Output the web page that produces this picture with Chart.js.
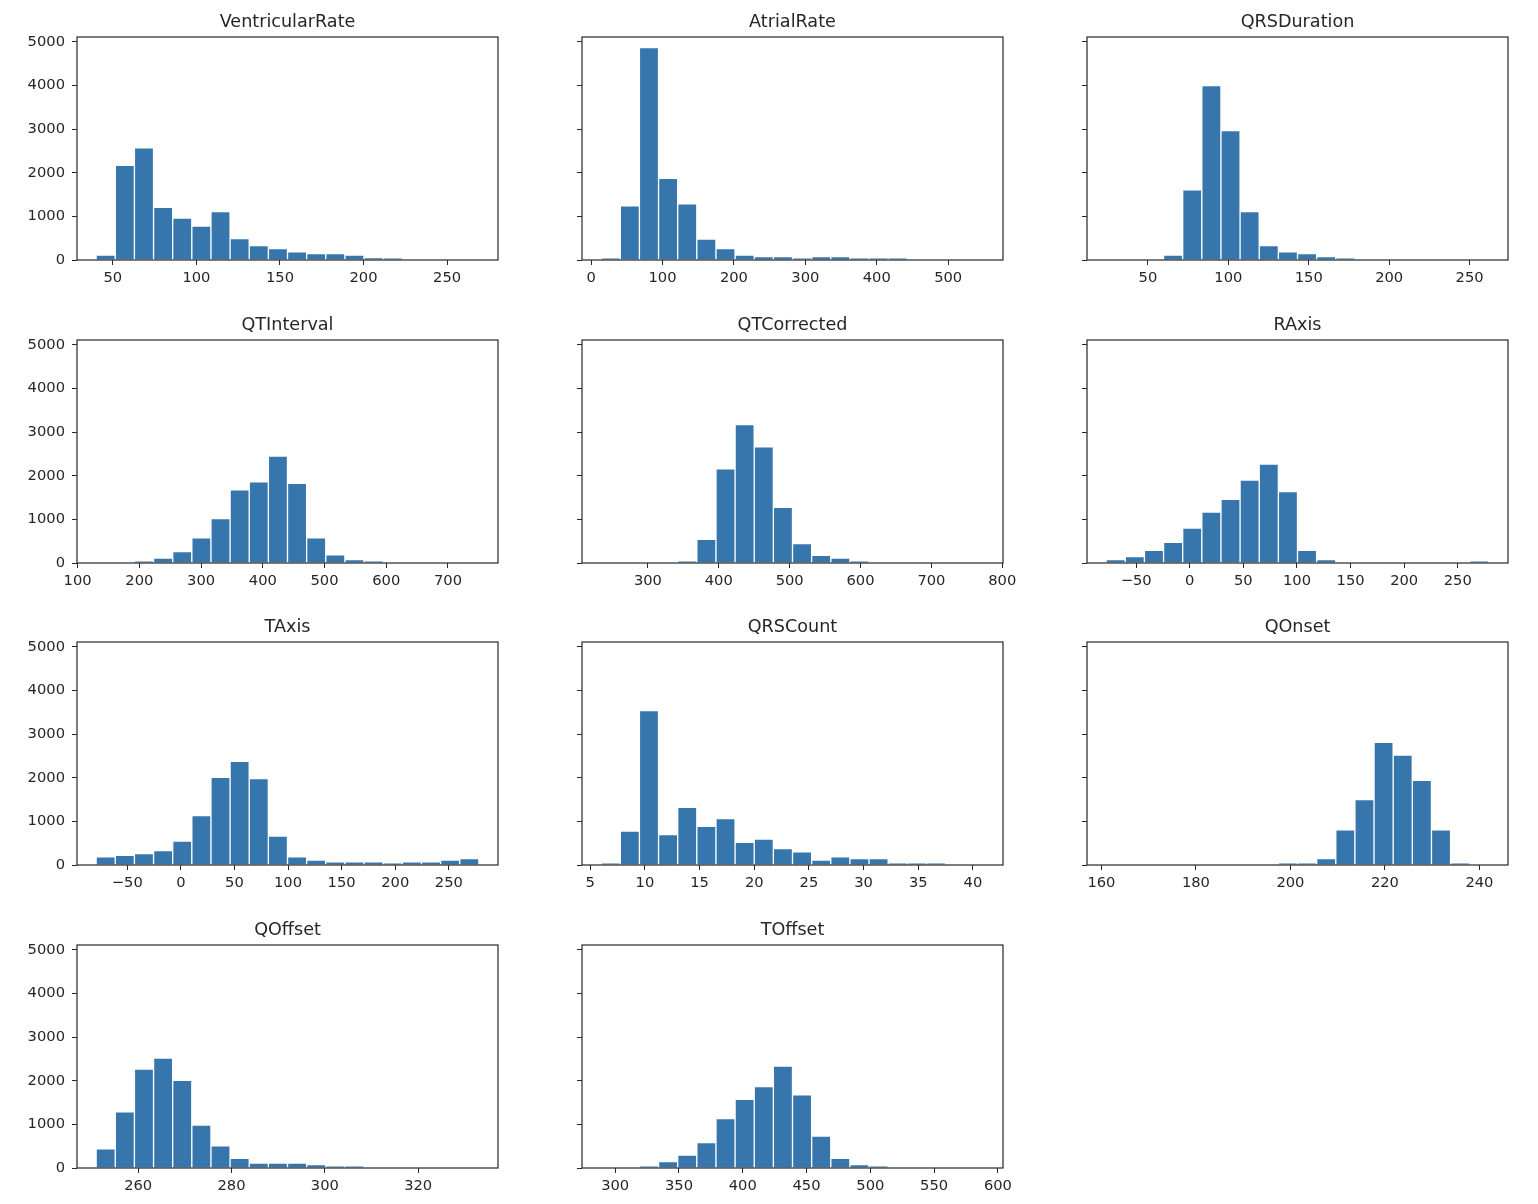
<!DOCTYPE html>
<html>
<head>
<meta charset="utf-8">
<script src="https://cdn.jsdelivr.net/npm/chart.js@4.4.1/dist/chart.umd.min.js"></script>
<style>
  body { margin: 0; background: #fff; }
  #fig { position: relative; width: 1538px; height: 1204px; background: #fff; }
  #fig canvas { position: absolute; }
</style>
</head>
<body>
<div id="fig"></div>
<script>
// subplot titles, in grid order
const titles = ['VentricularRate', 'AtrialRate', 'QRSDuration', 'QTInterval', 'QTCorrected',
                'RAxis', 'TAxis', 'QRSCount', 'QOnset', 'QOffset', 'TOffset'];

// histogram range (data min / max), 20 bins each
const binLo = [40, 14, 24, 130, 234, -78, -79, 6, 161, 251, 289];
const binHi = [269, 550, 262, 750, 774, 279, 278, 41, 242, 333, 589];

// counts per bin (too small to see -> 0)
const ventricularRate = [110, 2170, 2570, 1210, 960, 780, 1110, 490, 330, 260, 190, 150, 150, 115, 50, 45, 0, 0, 0, 0];
const atrialRate      = [45, 1245, 4870, 1870, 1290, 480, 260, 115, 80, 80, 45, 80, 80, 45, 45, 45, 0, 0, 0, 0];
const qrsDuration     = [0, 0, 0, 115, 1610, 4000, 2970, 1110, 330, 190, 145, 80, 45, 0, 0, 0, 0, 0, 0, 0];
const qtInterval      = [0, 0, 45, 110, 260, 580, 1020, 1680, 1860, 2450, 1825, 580, 185, 80, 45, 0, 0, 0, 0, 0];
const qtCorrected     = [0, 0, 0, 0, 40, 545, 2160, 3175, 2665, 1275, 445, 175, 110, 45, 0, 0, 0, 0, 0, 0];
const rAxis           = [80, 145, 290, 475, 800, 1170, 1460, 1900, 2270, 1640, 290, 80, 0, 0, 0, 0, 0, 0, 0, 45];
const tAxis           = [185, 220, 260, 330, 550, 1135, 2010, 2375, 1980, 665, 185, 115, 75, 75, 75, 45, 75, 75, 115, 145];
const qrsCount        = [45, 780, 3540, 700, 1325, 885, 1065, 520, 595, 375, 300, 115, 190, 150, 150, 45, 45, 45, 0, 0];
const qOnset          = [0, 0, 0, 0, 0, 0, 0, 0, 0, 45, 45, 150, 805, 1500, 2815, 2520, 1940, 805, 45, 0];
const qOffset         = [440, 1290, 2270, 2520, 2010, 985, 510, 220, 115, 115, 115, 80, 45, 45, 0, 0, 0, 0, 0, 0];
const tOffset         = [0, 0, 45, 145, 295, 585, 1135, 1575, 1865, 2335, 1680, 730, 220, 80, 45, 0, 0, 0, 0, 0];

const counts = [ventricularRate, atrialRate, qrsDuration, qtInterval, qtCorrected,
                rAxis, tAxis, qrsCount, qOnset, qOffset, tOffset];

// tick labels
const yTicks = [0, 1000, 2000, 3000, 4000, 5000];
const xTicks = [
    [50, 100, 150, 200, 250],
    [0, 100, 200, 300, 400, 500],
    [50, 100, 150, 200, 250],
    [100, 200, 300, 400, 500, 600, 700],
    [300, 400, 500, 600, 700, 800],
    [-50, 0, 50, 100, 150, 200, 250],
    [-50, 0, 50, 100, 150, 200, 250],
    [5, 10, 15, 20, 25, 30, 35, 40],
    [160, 180, 200, 220, 240],
    [260, 280, 300, 320],
    [300, 350, 400, 450, 500, 550, 600]
];

const colLeft = [77, 582, 1087];
const rowTop = [37, 340, 642, 945];
const plotW = 421, plotH = 223;
const padL = 70, padT = 34, padR = 20, padB = 30;

Chart.defaults.font.family = 'DejaVu Sans';
Chart.defaults.color = '#262626';

const yMax = Math.max(...counts.map(c => Math.max(...c))) * 1.05;

function fmt(v) {
    return v < 0 ? '\u2212' + Math.abs(v) : String(v);
}

const framePlugin = {
    id: 'frame',
    afterDraw(chart) {
        const a = chart.chartArea;
        const ctx = chart.ctx;
        ctx.save();
        ctx.strokeStyle = '#262626';
        ctx.lineWidth = 1.2;
        ctx.strokeRect(a.left, a.top, a.right - a.left, a.bottom - a.top);
        ctx.fillStyle = '#262626';
        ctx.font = '17.6px "DejaVu Sans"';
        ctx.textAlign = 'center';
        ctx.textBaseline = 'alphabetic';
        ctx.fillText(chart.options.plugins.frame.title, (a.left + a.right) / 2, a.top - 10.5);
        ctx.restore();
    }
};

function drawHist(i) {
    const col = i % 3, row = Math.floor(i / 3);
    const canvas = document.createElement('canvas');
    canvas.width = padL + plotW + padR;
    canvas.height = padT + plotH + padB;
    canvas.style.left = (colLeft[col] - padL) + 'px';
    canvas.style.top = (rowTop[row] - padT) + 'px';
    document.getElementById('fig').appendChild(canvas);

    const lo = binLo[i], hi = binHi[i];
    const w = (hi - lo) / counts[i].length;
    const span = hi - lo;

    new Chart(canvas.getContext('2d'), {
        type: 'bar',
        data: {
            datasets: [{
                data: counts[i].map((c, j) => ({ x: lo + (j + 0.5) * w, y: c })),
                backgroundColor: '#3776ad',
                borderColor: '#ffffff',
                borderWidth: 1,
                barPercentage: 1,
                categoryPercentage: 1
            }]
        },
        options: {
            responsive: false,
            animation: false,
            layout: { padding: { left: 0, right: padR, top: padT, bottom: 0 } },
            plugins: {
                legend: { display: false },
                tooltip: { enabled: false },
                frame: { title: titles[i] }
            },
            scales: {
                x: {
                    type: 'linear',
                    offset: false,
                    min: lo - 0.05 * span,
                    max: hi + 0.05 * span,
                    afterBuildTicks: s => { s.ticks = xTicks[i].map(v => ({ value: v })); },
                    afterFit: s => { s.height = padB; },
                    grid: { offset: false, drawOnChartArea: false, tickLength: 5, tickColor: '#262626' },
                    border: { display: false },
                    ticks: { font: { size: 14.7 }, padding: 4, maxRotation: 0, autoSkip: false, callback: v => fmt(v) }
                },
                y: {
                    min: 0,
                    max: yMax,
                    afterBuildTicks: s => { s.ticks = yTicks.map(v => ({ value: v })); },
                    afterFit: s => { s.width = padL; },
                    grid: { drawOnChartArea: false, tickLength: 5, tickColor: '#262626' },
                    border: { display: false },
                    ticks: { font: { size: 14.7 }, padding: 7, callback: v => col === 0 ? fmt(v) : '' }
                }
            }
        },
        plugins: [framePlugin]
    });
}

titles.forEach((t, i) => drawHist(i));
</script>
</body>
</html>
